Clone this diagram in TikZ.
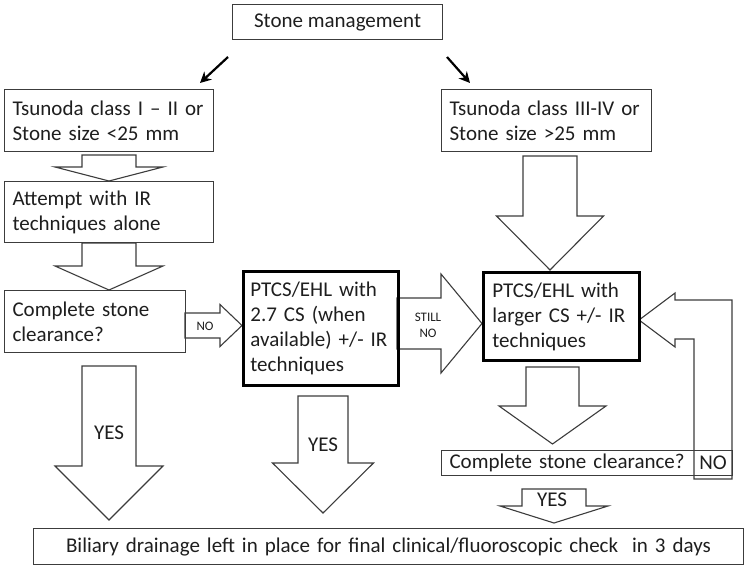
\documentclass[tikz,border=0pt]{standalone}
\usepackage{fontspec}
\setmainfont{Carlito}
\usetikzlibrary{arrows.meta}
\definecolor{lc}{HTML}{3C3C3C}
\definecolor{tc}{HTML}{1E1E1E}
\newcommand\fbig{\fontsize{21}{25}\selectfont}
\newcommand\fsml{\fontsize{13}{14.5}\selectfont}
% down block arrow: cx, ytop, yhead, ytip, halfshaft, halfhead
\newcommand\dnarrow[6]{\draw[blk] ({#1-#5},#2) -- ({#1+#5},#2) -- ({#1+#5},#3) -- ({#1+#6},#3) -- (#1,#4) -- ({#1-#6},#3) -- ({#1-#5},#3) -- cycle;}
% right block arrow: cy, xstart, xhead, xtip, halfshaft, halfhead
\newcommand\rtarrow[6]{\draw[blk] (#2,{#1-#5}) -- (#3,{#1-#5}) -- (#3,{#1-#6}) -- (#4,#1) -- (#3,{#1+#6}) -- (#3,{#1+#5}) -- (#2,{#1+#5}) -- cycle;}
\begin{document}
\begin{tikzpicture}[x=1pt,y=-1pt,
  blk/.style={draw=lc, line width=1.1pt, fill=white, line join=miter},
  box/.style={draw=lc, line width=1.1pt, anchor=north west, inner xsep=8pt, inner ysep=0pt, align=left, font=\fbig, text=tc},
  tbox/.style={box, draw=black, line width=2.8pt},
  lbl/.style={font=\fbig, text=tc, inner sep=0pt},
  slbl/.style={font=\fsml, text=tc, inner sep=0pt, align=center},
  thinarr/.style={draw=black, line width=2.2pt, -{Stealth[length=11pt,width=11pt]}}]
\useasboundingbox (0,0) rectangle (749,567);

% block arrows
\dnarrow{109}{155}{167}{181}{27}{54}
\dnarrow{109}{243}{266}{290}{27}{54}
\dnarrow{550}{156}{216}{270}{27}{53.5}
\dnarrow{552.5}{367}{406}{444}{26.5}{53.5}
\dnarrow{109}{366}{466}{520}{27}{54}
\dnarrow{323}{396}{463}{513}{25}{50.5}
\dnarrow{554}{489}{506}{523}{32}{54}
\rtarrow{325.5}{185}{220}{242}{12.5}{21}
\rtarrow{323.5}{397}{441}{482}{25.5}{49.5}
% feedback arrow (NO loop)
\draw[blk, fill=none] (694,479) -- (694,339) -- (675,339) -- (675,347) -- (639,320) -- (675,293) -- (675,300) -- (732,300) -- (732,479) -- cycle;

% boxes
\node[box, minimum width=210pt, minimum height=35pt, align=center, inner xsep=4pt] (stone) at (232,4) {Stone management};
\node[box, minimum width=209pt, minimum height=62pt, text width=193pt] (l1) at (4,89) {Tsunoda class I -- II or\\Stone size <25 mm};
\node[box, minimum width=210pt, minimum height=62pt, text width=194pt] (r1) at (441,89) {Tsunoda class III-IV or\\Stone size >25 mm};
\node[box, minimum width=209pt, minimum height=61pt, text width=193pt] (l2) at (4,181) {Attempt with IR\\techniques alone};
\node[box, minimum width=181pt, minimum height=62pt, text width=165pt] (l3) at (4,290) {Complete stone\\clearance?};
\node[tbox, minimum width=155pt, minimum height=114pt, text width=141pt, inner xsep=7pt] (m) at (242,270) {PTCS/EHL with\\2.7 CS (when\\available) +/- IR\\techniques};
\node[tbox, minimum width=156pt, minimum height=88pt, text width=138pt, inner xsep=9pt] (r2) at (482,271) {PTCS/EHL with\\larger CS +/- IR\\techniques};
\node[box, minimum width=291pt, minimum height=25pt, text width=275pt] (r3) at (441,450) {Complete stone clearance?};
\node[box, minimum width=710pt, minimum height=36pt, align=center, text width=700pt, inner xsep=5pt] (bot) at (33,528) {Biliary drainage left in place for final clinical/fluoroscopic check~~in 3 days};

% labels
\node[slbl] (lno) at (205,326) {NO};
\node[slbl] (lstill) at (428,317) {STILL};
\node[slbl] (lstillno) at (428,333) {NO};
\node[lbl] (yes1) at (109,433) {YES};
\node[lbl] (yes2) at (323,445) {YES};
\node[lbl] (yes3) at (552,500) {YES};
\node[lbl] (rno) at (713,463) {NO};

% thin arrows
\coordinate (a1s) at (228,57);
\coordinate (a1e) at (200,83);
\coordinate (a2s) at (447,57);
\coordinate (a2e) at (470,83);
\draw[thinarr] (a1s) -- (a1e);
\draw[thinarr] (a2s) -- (a2e);
\end{tikzpicture}
\end{document}
